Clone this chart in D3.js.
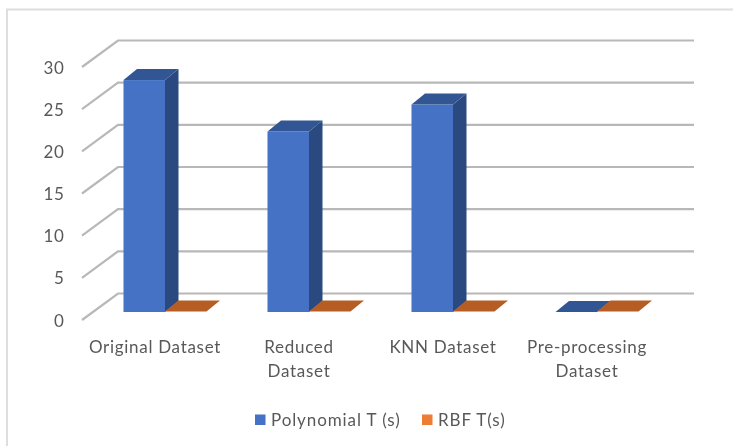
<!DOCTYPE html>
<html><head><meta charset="utf-8">
<script src="https://cdnjs.cloudflare.com/ajax/libs/d3/7.8.5/d3.min.js"></script>
<style>html,body{margin:0;padding:0;background:#fff}svg{display:block}text{font-family:Lato,"Open Sans",sans-serif;fill:#595959}</style>
</head><body><svg id="c" width="733" height="447"></svg>
<script>
const categories=[["Original Dataset"],["Reduced","Dataset"],["KNN Dataset"],["Pre-processing","Dataset"]];
const categoryKeys=categories.map(d=>d.join(" "));
const polynomial=[27.5,21.4,24.6,0];
const rbf=[0.05,0.05,0.05,0.05];
const ticks=[0,5,10,15,20,25,30];
const seriesNames=["Polynomial T (s)","RBF T(s)"];
const W=733,H=447,dx=13.5,dy=11,backX=25,backY=18.5,frontX=11,frontY=8;
const svg=d3.select("#c");
const defs=svg.append("defs");
defs.append("filter").attr("id","soft").append("feGaussianBlur").attr("stdDeviation",0.55);
const g=svg.append("g").attr("filter","url(#soft)");
const x=d3.scaleBand().domain(categoryKeys).range([93,669]);
const y=d3.scaleLinear().domain([0,30]).range([312,59]);
const barW=41.5;
const x0=x.range()[0],x1=x.range()[1];
// border
g.append("path").attr("fill","none").attr("stroke","#dedede").attr("stroke-width",2)
 .attr("d",d3.line()([[7,446],[7,9.5],[733,9.5]]));
// gridlines
ticks.forEach(t=>{
  g.append("path").attr("fill","none").attr("stroke","#b8b8b8").attr("stroke-width",2.2)
   .attr("d",d3.line()([[x0-frontX,y(t)+frontY],[x0+backX,y(t)-backY],[x1+backX,y(t)-backY]]));
});
function bar(cx,v,front,top,side){
  const h=y(v),b=y(0);
  if(v>0.5){
    g.append("rect").attr("x",cx).attr("y",h).attr("width",barW).attr("height",b-h).attr("fill",front);
    g.append("path").attr("fill",side).attr("d",d3.line()([[cx+barW,h],[cx+barW+dx,h-dy],[cx+barW+dx,b-dy],[cx+barW,b]])+"Z");
  }
  g.append("path").attr("fill",top).attr("d",d3.line()([[cx,h],[cx+dx,h-dy],[cx+barW+dx,h-dy],[cx+barW,h]])+"Z");
}
categoryKeys.forEach((k,i)=>{
  const c=x(k)+x.bandwidth()/2;
  bar(c-barW,polynomial[i],"#4472c4","#335693","#2a4a80");
  bar(c,rbf[i],"#ed7d31","#b55d22","#a9541c");
});
// y labels
const yLabels=g.append("g").attr("font-size",17).attr("text-anchor","end");
ticks.forEach(t=>yLabels.append("text").attr("x",64.5).attr("y",y(t)+frontY+6.5).attr("letter-spacing",0.7).text(t));
// x labels
categories.forEach((lines,i)=>{
  const cx=x(categoryKeys[i])+x.bandwidth()/2-10;
  lines.forEach((l,j)=>g.append("text").attr("x",cx).attr("y",353+j*23.5).attr("text-anchor","middle").attr("font-size",17).attr("letter-spacing",0.7).text(l));
});
// legend
const lx=[255,422],cols=["#4472c4","#ed7d31"];
seriesNames.forEach((s,i)=>{
  g.append("rect").attr("x",lx[i]).attr("y",414.5).attr("width",10.5).attr("height",10.5).attr("fill",cols[i]);
  g.append("text").attr("x",lx[i]+16).attr("y",426).attr("font-size",17).attr("letter-spacing",0.9).text(s);
});
</script></body></html>
